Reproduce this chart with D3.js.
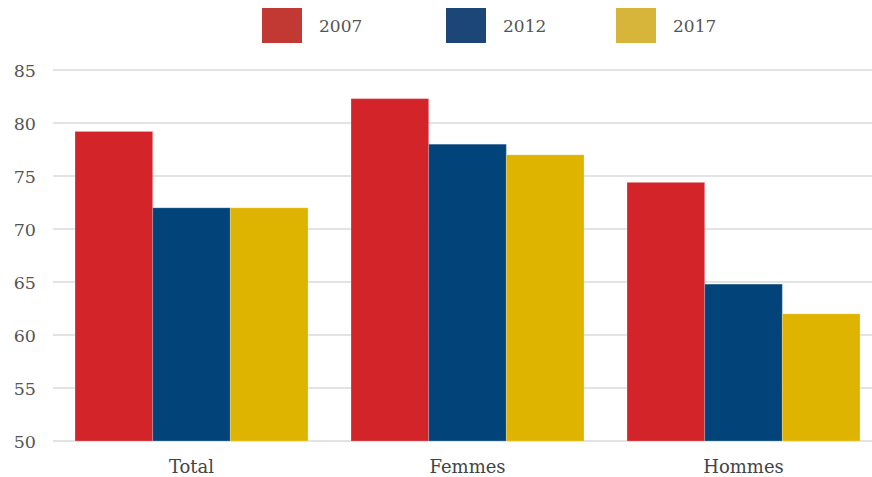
<!DOCTYPE html>
<html><head><meta charset="utf-8">
<script src="https://cdn.jsdelivr.net/npm/d3@7"></script>
<style>body{margin:0;background:#fff}svg{display:block}</style>
</head><body>
<svg id="c" width="872" height="477"></svg>
<script>
const categories = ["Total", "Femmes", "Hommes"];
const seriesNames = ["2007", "2012", "2017"];
const values2007 = [79.2, 82.3, 74.4];
const values2012 = [72.0, 78.0, 64.8];
const values2017 = [72.0, 77.0, 62.0];
const yTicks = [50, 55, 60, 65, 70, 75, 80, 85];
const barColors = ["#d3242a", "#02447a", "#dfb400"];
const legendColors = ["#c23934", "#1c4578", "#d7b43a"];

const series = [values2007, values2012, values2017];
const svg = d3.select("#c");
const font = "'DejaVu Serif', serif";

const y = d3.scaleLinear().domain([50, 85]).range([441, 70]);
const x0 = d3.scaleBand().domain(categories).range([53.5, 881.5])
  .paddingInner(0.156).paddingOuter(0.078);
const x1 = d3.scaleBand().domain(seriesNames).range([0, x0.bandwidth()]);

// gridlines
svg.append("g").selectAll("line").data(yTicks).join("line")
  .attr("x1", 53).attr("x2", 872)
  .attr("y1", d => y(d)).attr("y2", d => y(d))
  .attr("stroke", "#dadada").attr("stroke-width", 1.5);

// y axis labels
const yAxis = d3.axisLeft(y).tickValues(yTicks).tickSize(0).tickPadding(0);
const gy = svg.append("g").attr("transform", "translate(36,0)").call(yAxis);
gy.select(".domain").remove();
gy.selectAll("text").attr("font-family", font).attr("font-size", 17.5)
  .attr("fill", "#555").attr("dy", "0.35em");

// bars
const groups = svg.append("g").selectAll("g").data(categories).join("g")
  .attr("transform", d => `translate(${x0(d)},0)`);
groups.selectAll("rect").data((c, i) => series.map((s, k) => ({k, v: s[i]}))).join("rect")
  .attr("x", d => x1(seriesNames[d.k]))
  .attr("width", x1.bandwidth())
  .attr("y", d => y(d.v))
  .attr("height", d => y(50) - y(d.v))
  .attr("fill", d => barColors[d.k])
  .attr("stroke", "rgba(255,255,255,0.2)").attr("stroke-width", 1);

// x axis labels
const xAxis = d3.axisBottom(x0).tickSize(0).tickPadding(0);
const gx = svg.append("g").attr("transform", "translate(0,460)").call(xAxis);
gx.select(".domain").remove();
gx.selectAll("text").attr("font-family", font).attr("font-size", 18)
  .attr("fill", "#444").attr("dy", "0.71em");

// legend
const legX = [262, 446, 616];
const leg = svg.append("g").selectAll("g").data(seriesNames).join("g")
  .attr("transform", (d, i) => `translate(${legX[i]},8)`);
leg.append("rect").attr("width", 40).attr("height", 35).attr("fill", (d, i) => legendColors[i]);
leg.append("text").attr("x", 57).attr("y", 18).attr("dy", "0.35em")
  .attr("font-family", font).attr("font-size", 17).attr("fill", "#555").text(d => d);
</script>
</body></html>
